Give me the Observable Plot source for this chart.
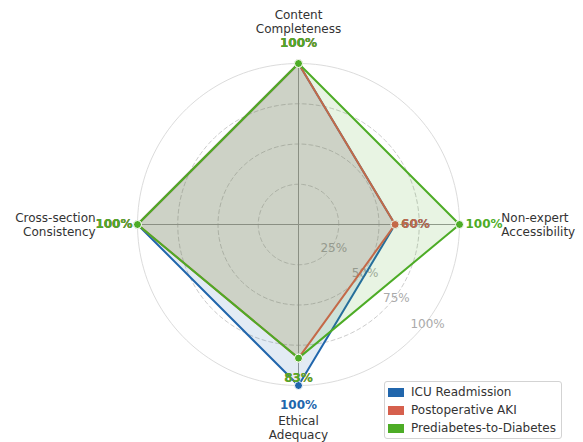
<!DOCTYPE html>
<html><head><meta charset="utf-8">
<script src="https://cdn.jsdelivr.net/npm/d3@7"></script>
<script src="https://cdn.jsdelivr.net/npm/@observablehq/plot@0.6"></script>
<style>
body{margin:0;background:#fff;font-family:"DejaVu Sans",sans-serif;}
#wrap{position:relative;width:583px;height:442px;}
#legend{position:absolute;left:384px;top:381px;width:178px;height:58px;border:1px solid #d3d3d3;border-radius:3px;background:rgba(255,255,255,0.85);font-size:12px;color:#333;box-sizing:border-box;padding-top:1px;}
.row{display:flex;align-items:center;height:18px;}
.sw{width:16px;height:9px;margin-left:3px;margin-right:7px;}
</style></head>
<body><div id="wrap"></div>
<script>
const axisNames = ["Content\nCompleteness", "Non-expert\nAccessibility", "Ethical\nAdequacy", "Cross-section\nConsistency"];
const seriesNames = ["ICU Readmission", "Postoperative AKI", "Prediabetes-to-Diabetes"];
const icuValues = [100, 60, 100, 100];
const akiValues = [100, 60, 83, 100];
const preValues = [100, 100, 83, 100];
const radialTicks = [25, 50, 75, 100];
const colors = ["#2166ac", "#d6604d", "#4dac26"];

const allValues = [icuValues, akiValues, preValues];
const R = 161, cx = 298, cy = 224, W = 583, H = 442;
const theta = i => Math.PI / 2 - i * Math.PI / 2;
const dirOf = i => ["top", "right", "bottom", "left"][i];

const series = seriesNames.map((name, s) => ({
  name, color: colors[s],
  pts: allValues[s].map((v, i) => ({
    axis: i, v, dir: dirOf(i),
    x: (v / 100) * Math.cos(theta(i)),
    y: (v / 100) * Math.sin(theta(i))
  }))
}));

const circle = t => d3.range(0, 361, 2).map(a => ({x: (t / 100) * Math.cos(a * Math.PI / 180), y: (t / 100) * Math.sin(a * Math.PI / 180)}));

const marks = [];
// grid circles
radialTicks.forEach(t => {
  marks.push(Plot.line(circle(t), {x: "x", y: "y", stroke: t === 100 ? "#dcdcdc" : "#cccccc", strokeWidth: 1, strokeDasharray: t === 100 ? null : "4,3"}));
});
// spokes
marks.push(Plot.link(axisNames.map((n, i) => ({i})), {x1: 0, y1: 0, x2: d => Math.cos(theta(d.i)), y2: d => Math.sin(theta(d.i)), stroke: "#999", strokeWidth: 1}));
// tick labels
const tAng = -39 * Math.PI / 180;
marks.push(Plot.text(radialTicks, {x: d => (d / 100) * Math.cos(tAng), y: d => (d / 100) * Math.sin(tAng), text: d => d + "%", dx: 4, dy: -2, fill: "#aaaaaa", fontSize: 12}));
// axis labels
const labelR = 1.26;
const anchorOf = {top: "middle", bottom: "middle", right: "start", left: "end"};
["top", "right", "bottom", "left"].forEach(dir => {
  marks.push(Plot.text(axisNames.map((n, i) => ({n, i})).filter(d => dirOf(d.i) === dir), {
    x: d => labelR * Math.cos(theta(d.i)), y: d => labelR * Math.sin(theta(d.i)),
    text: "n", textAnchor: anchorOf[dir], lineHeight: 1.17, fontSize: 12, fill: "#333"
  }));
});
// series
const off = {top: [0, -20], bottom: [0, 20], right: [6, 0], left: [-5, 0]};
series.forEach(s => {
  marks.push(Plot.line(s.pts, {x: "x", y: "y", curve: "linear-closed", fill: s.color, fillOpacity: 0.13, stroke: s.color, strokeWidth: 2}));
  marks.push(Plot.dot(s.pts, {x: "x", y: "y", r: 4, fill: s.color, stroke: "white", strokeWidth: 1}));
  ["top", "right", "bottom", "left"].forEach(dir => {
    marks.push(Plot.text(s.pts.filter(p => p.dir === dir), {
      x: "x", y: "y", text: p => p.v + "%", textAnchor: anchorOf[dir],
      dx: off[dir][0], dy: off[dir][1], fill: s.color, fontWeight: "bold", fontSize: 12
    }));
  });
});

const chart = Plot.plot({
  width: W, height: H, margin: 0,
  style: {fontFamily: "DejaVu Sans, sans-serif", background: "white"},
  x: {axis: null, domain: [-cx / R, (W - cx) / R], range: [0, W]},
  y: {axis: null, domain: [-(H - cy) / R, cy / R], range: [H, 0]},
  marks
});
const wrap = document.getElementById("wrap");
wrap.appendChild(chart);
const leg = document.createElement("div");
leg.id = "legend";
seriesNames.forEach((n, i) => {
  const row = document.createElement("div");
  row.className = "row";
  const sw = document.createElement("div");
  sw.className = "sw"; sw.style.background = colors[i];
  const lab = document.createElement("span");
  lab.textContent = n;
  row.appendChild(sw); row.appendChild(lab);
  leg.appendChild(row);
});
wrap.appendChild(leg);
</script></body></html>
